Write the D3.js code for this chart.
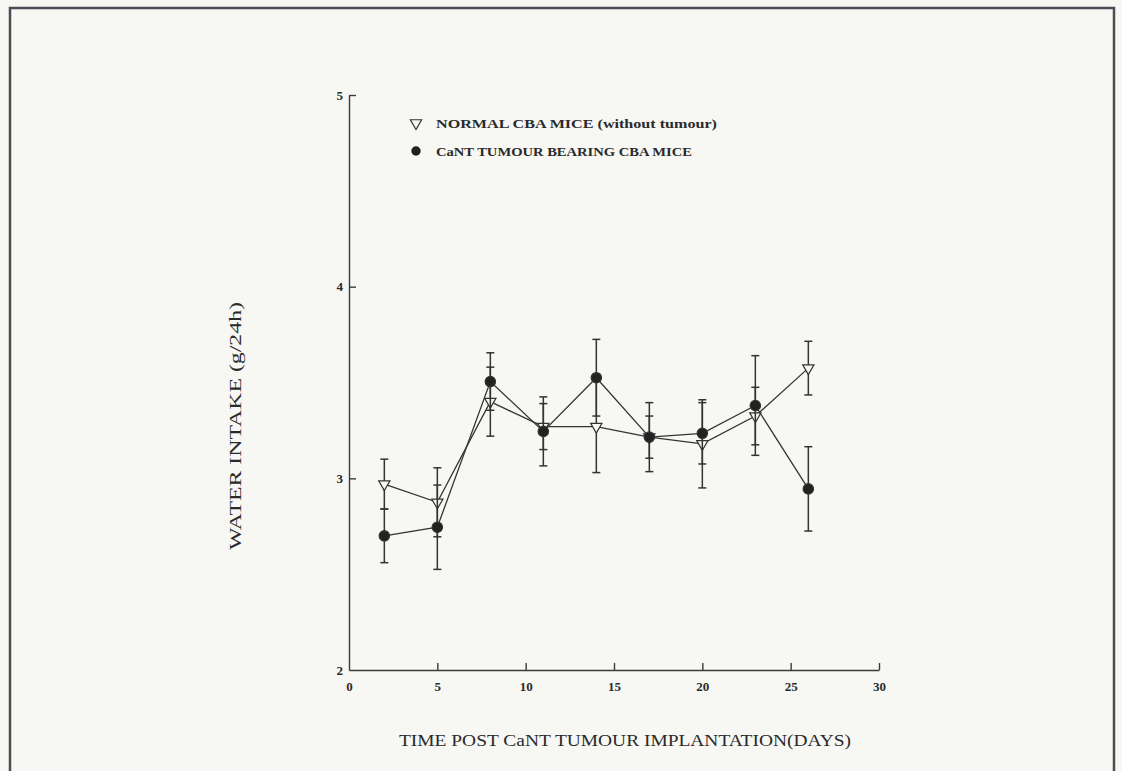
<!DOCTYPE html>
<html>
<head>
<meta charset="utf-8">
<script src="https://cdn.jsdelivr.net/npm/d3@7"></script>
<style>
  html, body { margin: 0; padding: 0; background: #f7f7f4; }
  svg { display: block; }
  .axis text { font-family: "Liberation Serif", "DejaVu Serif", serif; font-weight: bold; font-size: 13px; fill: #2a2a2a; }
  .axis path, .axis line { stroke: #3a3a3a; stroke-width: 1.4; }
  .title { font-family: "Liberation Serif", "DejaVu Serif", serif; font-size: 16px; fill: #2a2a2a; }
  .legend text { font-family: "Liberation Serif", "DejaVu Serif", serif; font-weight: bold; font-size: 13px; fill: #2a2a2a; }
</style>
</head>
<body>
<script>
// days post implantation
const days = [2, 5, 8, 11, 14, 17, 20, 23, 26];

// normal CBA mice (open triangles)
const normalMean = [2.97, 2.875, 3.40, 3.27, 3.27, 3.215, 3.18, 3.325, 3.575];
const normalErr  = [0.13, 0.18, 0.18, 0.12, 0.24, 0.18, 0.23, 0.15, 0.14];

// CaNT tumour bearing mice (filled circles)
const tumourMean = [2.70, 2.745, 3.505, 3.245, 3.525, 3.215, 3.235, 3.38, 2.945];
const tumourErr  = [0.14, 0.22, 0.15, 0.18, 0.20, 0.11, 0.16, 0.26, 0.22];

const xTicks = [0, 5, 10, 15, 20, 25, 30];
const yTicks = [2, 3, 4, 5];

const legendLabels = ["NORMAL CBA MICE (without tumour)", "CaNT TUMOUR BEARING CBA MICE"];
const xTitle = "TIME POST CaNT TUMOUR IMPLANTATION(DAYS)";
const yTitle = "WATER INTAKE (g/24h)";

const width = 1122, height = 771;

const svg = d3.select("body").append("svg")
    .attr("width", width)
    .attr("height", height);

// page frame
svg.append("rect")
    .attr("x", 10).attr("y", 8)
    .attr("width", 1104).attr("height", 800)
    .attr("fill", "none")
    .attr("stroke", "#4b4b55")
    .attr("stroke-width", 2.5);

const x = d3.scaleLinear().domain([0, 30]).range([349, 879]);
const y = d3.scaleLinear().domain([2, 5]).range([670, 95]);

const xAxis = d3.axisBottom(x)
    .tickValues(xTicks)
    .tickFormat(d3.format("d"))
    .tickSizeInner(-7)
    .tickSizeOuter(0)
    .tickPadding(12);

const yAxis = d3.axisLeft(y)
    .tickValues(yTicks)
    .tickFormat(d3.format("d"))
    .tickSizeInner(-7)
    .tickSizeOuter(0)
    .tickPadding(6);

svg.append("g").attr("class", "axis x-axis")
    .attr("transform", "translate(0," + y(2) + ")")
    .call(xAxis);

svg.append("g").attr("class", "axis y-axis")
    .attr("transform", "translate(" + x(0) + ",0)")
    .call(yAxis);

// the origin tick would sit on the other axis
svg.selectAll(".x-axis .tick:first-of-type line").remove();
svg.selectAll(".y-axis .tick:first-of-type line").remove();

// axis titles
svg.append("text").attr("class", "title")
    .attr("x", 625).attr("y", 746)
    .attr("text-anchor", "middle")
    .attr("textLength", 452)
    .attr("lengthAdjust", "spacingAndGlyphs")
    .text(xTitle);

svg.append("text").attr("class", "title")
    .attr("transform", "translate(241,426) rotate(-90)")
    .attr("text-anchor", "middle")
    .attr("textLength", 248)
    .attr("lengthAdjust", "spacingAndGlyphs")
    .text(yTitle);

const series = [
    { mean: normalMean, err: normalErr, type: "triangle" },
    { mean: tumourMean, err: tumourErr, type: "circle" }
];

const line = d3.line()
    .x((d, i) => x(days[i]))
    .y(d => y(d));

const capW = 4;
const ink = "#333";

series.forEach(s => {
    const g = svg.append("g");

    g.append("path")
        .attr("d", line(s.mean))
        .attr("fill", "none")
        .attr("stroke", ink)
        .attr("stroke-width", 1.3);

    const eb = g.selectAll(".err").data(s.mean).enter().append("g");
    eb.append("line")
        .attr("x1", (d, i) => x(days[i])).attr("x2", (d, i) => x(days[i]))
        .attr("y1", (d, i) => y(d + s.err[i])).attr("y2", (d, i) => y(d - s.err[i]))
        .attr("stroke", ink).attr("stroke-width", 1.5);
    eb.append("line")
        .attr("x1", (d, i) => x(days[i]) - capW).attr("x2", (d, i) => x(days[i]) + capW)
        .attr("y1", (d, i) => y(d + s.err[i])).attr("y2", (d, i) => y(d + s.err[i]))
        .attr("stroke", ink).attr("stroke-width", 1.5);
    eb.append("line")
        .attr("x1", (d, i) => x(days[i]) - capW).attr("x2", (d, i) => x(days[i]) + capW)
        .attr("y1", (d, i) => y(d - s.err[i])).attr("y2", (d, i) => y(d - s.err[i]))
        .attr("stroke", ink).attr("stroke-width", 1.5);

    const sym = s.type === "triangle"
        ? d3.symbol().type(d3.symbolTriangle).size(55)
        : d3.symbol().type(d3.symbolCircle).size(85);

    g.selectAll(".pt").data(s.mean).enter().append("path")
        .attr("d", sym)
        .attr("transform", (d, i) => "translate(" + x(days[i]) + "," + y(d) + ")" + (s.type === "triangle" ? " rotate(180)" : ""))
        .attr("fill", s.type === "triangle" ? "#f7f7f4" : "#222")
        .attr("stroke", ink)
        .attr("stroke-width", 1.2);
});

// legend
const legend = svg.append("g").attr("class", "legend");
const legendY = [123, 151];
legend.append("path")
    .attr("d", d3.symbol().type(d3.symbolTriangle).size(55))
    .attr("transform", "translate(416," + legendY[0] + ") rotate(180)")
    .attr("fill", "#f7f7f4").attr("stroke", ink).attr("stroke-width", 1.2);
legend.append("path")
    .attr("d", d3.symbol().type(d3.symbolCircle).size(70))
    .attr("transform", "translate(416," + legendY[1] + ")")
    .attr("fill", "#222");
legend.selectAll("text").data(legendLabels).enter().append("text")
    .attr("x", 436)
    .attr("y", (d, i) => legendY[i] + 5)
    .attr("textLength", (d, i) => i === 0 ? 281 : 256)
    .attr("lengthAdjust", "spacingAndGlyphs")
    .text(d => d);
</script>
</body>
</html>
